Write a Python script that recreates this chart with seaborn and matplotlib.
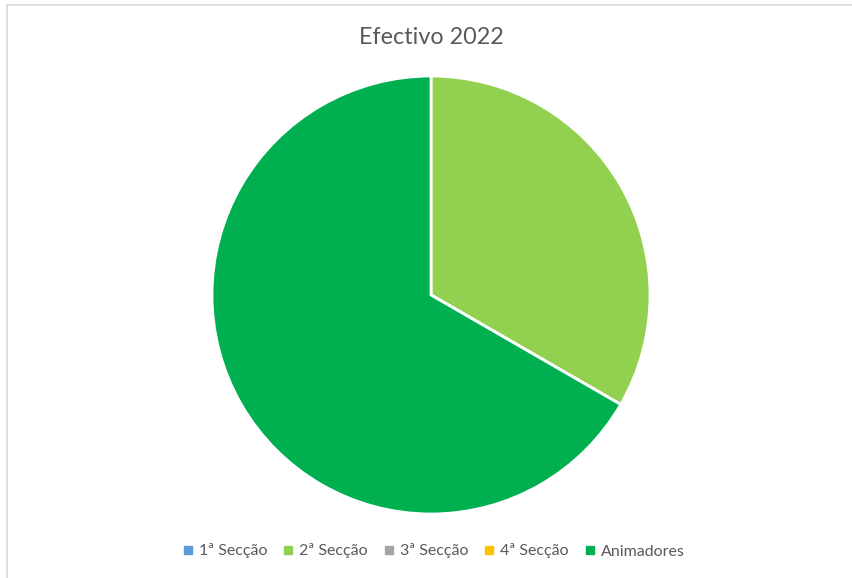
import matplotlib
matplotlib.use("Agg")
import matplotlib.pyplot as plt
import seaborn as sns
from matplotlib.lines import Line2D

categories = ["1ª Secção", "2ª Secção", "3ª Secção", "4ª Secção", "Animadores"]
values = [0, 1, 0, 0, 2]
colors = ["#5B9BD5", "#92D050", "#A5A5A5", "#FFC000", "#00B050"]
title = "Efectivo 2022"

sns.set_theme(style="white")
plt.rcParams["font.family"] = ["Lato", "DejaVu Sans"]

W, H = 852, 578
fig = plt.figure(figsize=(W / 100, H / 100), dpi=100)
fig.patch.set_facecolor("white")

# frame lines (top and left visible)
fig.add_artist(Line2D([7 / W, 1], [1 - 5 / H, 1 - 5 / H], color="#D9D9D9", lw=1.2, transform=fig.transFigure))
fig.add_artist(Line2D([7 / W, 7 / W], [0, 1 - 5 / H], color="#D9D9D9", lw=1.2, transform=fig.transFigure))

cx, cy, r = 431, 295, 219
ax = fig.add_axes([(cx - r) / W, 1 - (cy + r) / H, 2 * r / W, 2 * r / H])
ax.pie(values, colors=colors, startangle=90, counterclock=False,
       wedgeprops=dict(edgecolor="white", linewidth=2), radius=1.0)
ax.set_xlim(-1, 1)
ax.set_ylim(-1, 1)
ax.set_aspect("equal")
ax.axis("off")

fig.text(431 / W, 1 - 38 / H, title, ha="center", va="center", fontsize=16.8, color="#595959")

handles = [Line2D([], [], marker="s", linestyle="none", markersize=6, markerfacecolor=c,
                  markeredgecolor=c) for c in colors]
fig.legend(handles, categories, loc="center", bbox_to_anchor=(434 / W, 1 - 551 / H), ncol=5,
           frameon=False, fontsize=11.5, labelcolor="#595959", handletextpad=0.4,
           columnspacing=1.0, handlelength=0.6)

fig.savefig("out.png", dpi=100, facecolor="white")
